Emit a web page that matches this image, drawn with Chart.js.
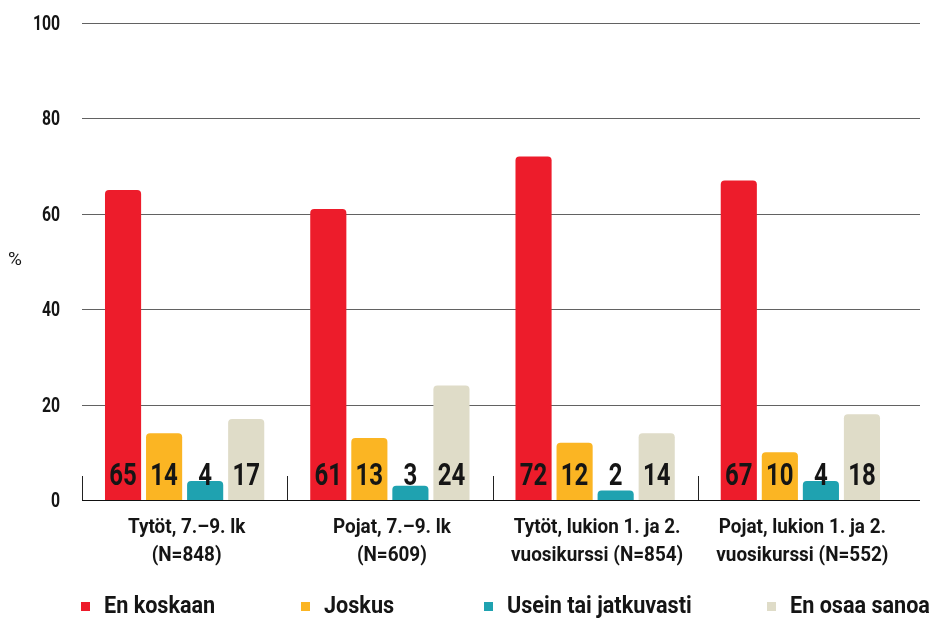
<!DOCTYPE html>
<html>
<head>
<meta charset="utf-8">
<script src="https://cdn.jsdelivr.net/npm/chart.js@4.4.0/dist/chart.umd.min.js"></script>
<style>
  html, body { margin: 0; padding: 0; background: #fff; }
</style>
</head>
<body>
<canvas id="chart" width="934" height="618"></canvas>
<script>
// ---------- DATA ----------
const categories = [
  ["Tytöt, 7.–9. lk", "(N=848)"],
  ["Pojat, 7.–9. lk", "(N=609)"],
  ["Tytöt, lukion 1. ja 2.", "vuosikurssi (N=854)"],
  ["Pojat, lukion 1. ja 2.", "vuosikurssi (N=552)"]
];
const seriesNames = ["En koskaan", "Joskus", "Usein tai jatkuvasti", "En osaa sanoa"];
const enKoskaan = [65, 61, 72, 67];
const joskus = [14, 13, 12, 10];
const usein = [4, 3, 2, 4];
const enOsaa = [17, 24, 14, 18];
const yTicks = [0, 20, 40, 60, 80, 100];

const colors = ["#ED1C2B", "#FBB523", "#1FA2B0", "#DFDCC8"];
const legendMarkX = [81, 301, 484, 767];
const FONT = "Roboto, 'DejaVu Sans', sans-serif";

// draw text squeezed horizontally (the original face is a narrow gothic)
function squeezedText(ctx, text, x, y, font, align, sq) {
  ctx.save();
  ctx.font = font;
  ctx.textAlign = align;
  ctx.translate(x, y);
  ctx.scale(sq, 1);
  ctx.fillText(text, 0, 0);
  ctx.restore();
}

// ---------- PLUGINS ----------
const extras = {
  id: "extras",
  beforeDatasetsDraw(chart) {
    const ctx = chart.ctx;
    const y = chart.scales.y;
    const x = chart.scales.x;
    const area = chart.chartArea;
    ctx.save();
    // horizontal grid lines, running a bit past the last group
    yTicks.forEach(v => {
      if (v === 0) return;
      const py = Math.round(y.getPixelForValue(v)) + 0.5;
      ctx.strokeStyle = "#626262";
      ctx.lineWidth = 1;
      ctx.beginPath();
      ctx.moveTo(area.left, py);
      ctx.lineTo(920, py);
      ctx.stroke();
    });
    // short separators between groups
    ctx.strokeStyle = "#222";
    const step = x.getPixelForValue(1) - x.getPixelForValue(0);
    for (let i = 0; i < categories.length; i++) {
      const sx = Math.round(x.getPixelForValue(i) - step / 2) + 0.5;
      ctx.beginPath();
      ctx.moveTo(sx, area.bottom - 24);
      ctx.lineTo(sx, area.bottom);
      ctx.stroke();
    }
    ctx.restore();
  },
  afterDatasetsDraw(chart) {
    const ctx = chart.ctx;
    const area = chart.chartArea;
    const x = chart.scales.x;
    const y = chart.scales.y;
    ctx.save();
    // baseline
    const by = Math.round(y.getPixelForValue(0)) + 0.5;
    ctx.strokeStyle = "#111";
    ctx.lineWidth = 1.2;
    ctx.beginPath();
    ctx.moveTo(area.left, by);
    ctx.lineTo(920, by);
    ctx.stroke();

    ctx.fillStyle = "#151515";
    ctx.textBaseline = "alphabetic";
    // value labels at the foot of each bar
    chart.data.datasets.forEach((ds, di) => {
      chart.getDatasetMeta(di).data.forEach((bar, i) => {
        squeezedText(ctx, String(ds.data[i]), bar.x, area.bottom - 15, "bold 32px " + FONT, "center", 0.75);
      });
    });
    // y tick labels
    yTicks.forEach(v => {
      squeezedText(ctx, String(v), 60, y.getPixelForValue(v) + 7, "bold 21px " + FONT, "right", 0.75);
    });
    // category labels
    categories.forEach((lines, i) => {
      const cx = x.getPixelForValue(i) + 2;
      squeezedText(ctx, lines[0], cx, 533, "bold 21px " + FONT, "center", 0.9);
      squeezedText(ctx, lines[1], cx, 561, "bold 21px " + FONT, "center", 0.9);
    });
    // y axis unit
    ctx.font = "19px " + FONT;
    ctx.textAlign = "left";
    ctx.fillText("%", 8, 265);
    // legend
    seriesNames.forEach((name, i) => {
      ctx.fillStyle = colors[i];
      ctx.fillRect(legendMarkX[i], 602, 9, 9);
      ctx.fillStyle = "#151515";
      squeezedText(ctx, name, legendMarkX[i] + 23, 613, "bold 24px " + FONT, "left", 0.9);
    });
    ctx.restore();
  }
};

// ---------- CHART ----------
const seriesValues = [enKoskaan, joskus, usein, enOsaa];

new Chart(document.getElementById("chart"), {
  type: "bar",
  data: {
    labels: categories,
    datasets: seriesNames.map((name, i) => ({
      label: name,
      data: seriesValues[i],
      backgroundColor: colors[i],
      borderRadius: 4,
      borderSkipped: "bottom",
      categoryPercentage: 0.8,
      barPercentage: 0.88
    }))
  },
  options: {
    responsive: false,
    animation: false,
    layout: { padding: { left: 0, right: 31, top: 23, bottom: 0 } },
    plugins: {
      legend: { display: false },
      tooltip: { enabled: false }
    },
    scales: {
      x: {
        grid: { display: false },
        border: { display: false },
        ticks: { display: false },
        afterFit(s) { s.height = 118; }
      },
      y: {
        min: 0,
        max: 100,
        afterBuildTicks(s) { s.ticks = yTicks.map(v => ({ value: v })); },
        grid: { display: false, drawTicks: false },
        border: { display: false },
        ticks: { display: false },
        afterFit(s) { s.width = 82; }
      }
    }
  },
  plugins: [extras]
});
</script>
</body>
</html>
